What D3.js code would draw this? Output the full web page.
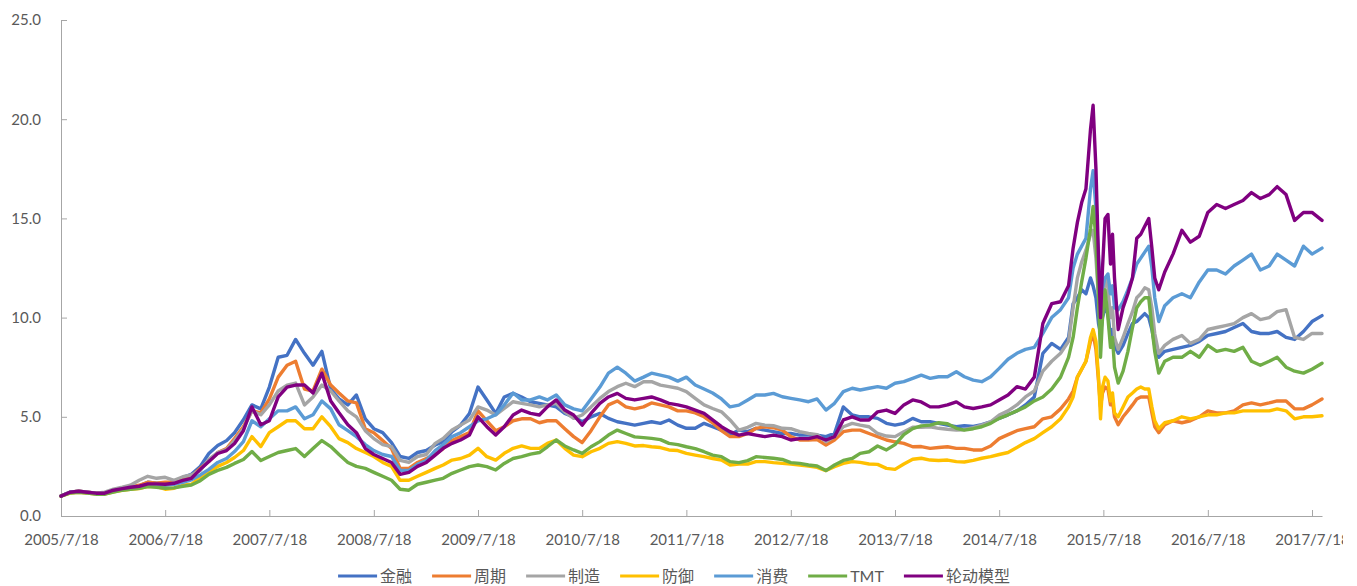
<!DOCTYPE html>
<html><head><meta charset="utf-8">
<script src="https://cdn.jsdelivr.net/npm/d3@7"></script>
<style>
body{margin:0;background:#fff;}
svg text{font-family:Lato,"Noto Sans CJK SC",sans-serif;fill:#595959;}
</style></head><body>
<svg id="chart" width="1357" height="586"></svg>
<script>
const dates = [
"2005-07-18","2005-08-18","2005-09-18","2005-10-18","2005-11-18","2005-12-18",
"2006-01-18","2006-02-18","2006-03-18","2006-04-18","2006-05-18","2006-06-18","2006-07-18","2006-08-18","2006-09-18","2006-10-18","2006-11-18","2006-12-18",
"2007-01-18","2007-02-18","2007-03-18","2007-04-18","2007-05-18","2007-06-18","2007-07-18","2007-08-18","2007-09-18","2007-10-18","2007-11-18","2007-12-18",
"2008-01-18","2008-02-18","2008-03-18","2008-04-18","2008-05-18","2008-06-18","2008-07-18","2008-08-18","2008-09-18","2008-10-18","2008-11-18","2008-12-18",
"2009-01-18","2009-02-18","2009-03-18","2009-04-18","2009-05-18","2009-06-18","2009-07-18","2009-08-18","2009-09-18","2009-10-18","2009-11-18","2009-12-18",
"2010-01-18","2010-02-18","2010-03-18","2010-04-18","2010-05-18","2010-06-18","2010-07-18","2010-08-18","2010-09-18","2010-10-18","2010-11-18","2010-12-18",
"2011-01-18","2011-02-18","2011-03-18","2011-04-18","2011-05-18","2011-06-18","2011-07-18","2011-08-18","2011-09-18","2011-10-18","2011-11-18","2011-12-18",
"2012-01-18","2012-02-18","2012-03-18","2012-04-18","2012-05-18","2012-06-18","2012-07-18","2012-08-18","2012-09-18","2012-10-18","2012-11-18","2012-12-18",
"2013-01-18","2013-02-18","2013-03-18","2013-04-18","2013-05-18","2013-06-18","2013-07-18","2013-08-18","2013-09-18","2013-10-18","2013-11-18","2013-12-18",
"2014-01-18","2014-02-18","2014-03-18","2014-04-18","2014-05-18","2014-06-18","2014-07-18","2014-08-18","2014-09-18","2014-10-18","2014-11-18","2014-12-18",
"2015-01-18","2015-02-18","2015-03-18","2015-04-03","2015-04-18","2015-05-03","2015-05-18","2015-06-03","2015-06-12","2015-06-22",
"2015-07-01","2015-07-08","2015-07-15","2015-07-24","2015-08-03","2015-08-12","2015-08-19","2015-08-26","2015-09-08","2015-09-25",
"2015-10-12","2015-10-28","2015-11-12","2015-11-26","2015-12-10","2015-12-24","2016-01-04","2016-01-14","2016-01-28","2016-02-18",
"2016-03-18","2016-04-18","2016-05-18","2016-06-18","2016-07-18","2016-08-18","2016-09-18","2016-10-18","2016-11-18","2016-12-18",
"2017-01-18","2017-02-18","2017-03-18","2017-04-18","2017-05-18","2017-06-18","2017-07-18","2017-08-22"
];

const seriesNames = ["金融","周期","制造","防御","消费","TMT","轮动模型"];
const seriesColors = ["#4472C4","#ED7D31","#A5A5A5","#FFC000","#5B9BD5","#70AD47","#800080"];

const jinrong = [
1.0,1.2,1.25,1.2,1.15,1.15,1.28,1.36,1.45,1.52,
1.7,1.65,1.65,1.7,1.95,2.1,2.5,3.15,3.55,3.8,
4.2,4.85,5.6,5.4,6.5,8.0,8.1,8.9,8.2,7.6,
8.3,6.4,5.9,5.6,6.1,4.9,4.4,4.2,3.7,3.0,
2.9,3.2,3.3,3.58,3.75,4.25,4.58,5.17,6.5,5.85,
5.17,6.0,6.18,6.0,5.76,5.68,5.6,5.5,5.17,5.0,
4.75,5.0,5.17,4.92,4.75,4.67,4.58,4.67,4.75,4.67,
4.84,4.58,4.42,4.42,4.67,4.5,4.33,4.08,4.33,4.25,
4.42,4.33,4.25,4.16,4.16,4.08,4.08,4.08,4.0,4.16,
5.5,5.09,5.0,5.0,4.92,4.67,4.58,4.67,4.92,4.75,
4.75,4.67,4.58,4.5,4.55,4.52,4.6,4.75,4.92,5.1,
5.3,5.6,6.0,8.2,
8.7,8.4,9.0,10.7,11.0,11.4,11.2,12.0,11.6,11.0,
9.7,9.2,10.0,10.5,10.2,9.0,9.4,8.6,8.2,8.6,
9.2,9.7,9.8,10.0,10.2,10.0,9.4,8.6,8.0,8.3,
8.4,8.5,8.6,8.8,9.1,9.2,9.3,9.5,9.7,9.3,
9.2,9.2,9.3,9.0,8.9,9.3,9.8,10.1
];
const zhouqi = [
1.0,1.2,1.25,1.2,1.15,1.15,1.28,1.36,1.45,1.55,
1.7,1.65,1.7,1.72,1.9,2.0,2.4,2.75,3.2,3.4,
3.9,4.5,5.3,5.2,5.9,7.0,7.6,7.8,6.4,6.3,
7.4,6.6,6.2,5.8,5.7,4.4,4.2,3.8,3.4,2.4,
2.4,2.7,2.9,3.1,3.4,3.8,4.0,4.2,5.3,4.8,
4.3,4.5,4.8,4.9,4.9,4.7,4.8,4.8,4.4,4.0,
3.7,4.3,5.0,5.6,5.8,5.5,5.4,5.5,5.7,5.6,
5.5,5.3,5.3,5.2,5.0,4.7,4.3,4.0,4.0,4.16,
4.42,4.5,4.45,4.33,4.0,3.83,3.83,3.85,3.58,3.83,
4.25,4.33,4.33,4.16,4.0,3.83,3.74,3.66,3.49,3.5,
3.41,3.45,3.49,3.41,3.41,3.33,3.33,3.53,3.9,4.1,
4.3,4.4,4.5,4.9,
5.0,5.4,5.9,6.3,7.0,7.4,7.8,8.8,9.2,8.4,
6.8,5.5,6.2,6.5,6.4,5.6,5.8,5.0,4.6,5.0,
5.3,5.6,5.9,6.0,6.0,6.0,5.2,4.5,4.2,4.6,
4.8,4.7,4.8,5.0,5.3,5.2,5.2,5.3,5.6,5.7,
5.6,5.7,5.8,5.8,5.4,5.4,5.6,5.9
];
const zhizao = [
1.0,1.2,1.25,1.2,1.15,1.2,1.35,1.45,1.55,1.8,
2.0,1.9,1.95,1.8,1.98,2.07,2.3,2.85,3.2,3.35,
3.8,4.4,5.3,5.1,5.6,6.3,6.6,6.7,5.6,6.0,
6.6,6.3,5.8,5.3,5.0,4.3,3.9,3.6,3.5,2.8,
2.7,3.0,3.1,3.66,3.91,4.33,4.58,4.84,5.5,5.34,
5.09,5.42,5.76,5.68,5.6,5.5,5.6,5.68,5.25,4.92,
5.09,5.5,5.93,6.27,6.52,6.69,6.52,6.77,6.77,6.6,
6.52,6.44,6.27,5.93,5.6,5.42,5.25,4.84,4.33,4.47,
4.67,4.58,4.55,4.42,4.4,4.25,4.16,4.1,3.74,4.0,
4.5,4.67,4.58,4.5,4.16,4.03,4.0,4.25,4.47,4.47,
4.5,4.42,4.37,4.33,4.35,4.45,4.58,4.75,5.09,5.3,
5.6,6.0,6.3,7.3,
7.8,8.2,8.8,10.5,12.0,12.8,13.4,14.2,14.4,13.0,
11.0,9.4,10.5,12.0,11.5,10.0,10.5,9.0,8.4,9.0,
9.7,10.3,11.0,11.2,11.5,11.4,10.5,9.2,8.2,8.6,
8.9,9.1,8.7,8.9,9.4,9.5,9.6,9.7,10.0,10.2,
9.9,10.0,10.3,10.4,9.0,8.9,9.2,9.2
];
const fangyu = [
1.0,1.15,1.2,1.15,1.1,1.1,1.22,1.3,1.35,1.38,
1.5,1.48,1.35,1.4,1.55,1.6,1.95,2.2,2.5,2.7,
2.95,3.3,4.0,3.5,4.2,4.5,4.8,4.8,4.4,4.4,
5.0,4.5,3.9,3.7,3.4,3.2,3.0,2.7,2.5,1.8,
1.8,2.0,2.2,2.4,2.57,2.82,2.9,3.07,3.41,2.99,
2.82,3.16,3.41,3.53,3.41,3.41,3.66,3.83,3.41,3.07,
2.99,3.24,3.41,3.66,3.75,3.66,3.53,3.55,3.49,3.45,
3.33,3.3,3.16,3.07,2.99,2.9,2.82,2.57,2.62,2.62,
2.74,2.74,2.69,2.65,2.62,2.57,2.52,2.45,2.29,2.49,
2.65,2.74,2.7,2.62,2.6,2.4,2.35,2.62,2.86,2.91,
2.82,2.8,2.82,2.74,2.72,2.8,2.91,2.99,3.1,3.2,
3.45,3.7,3.9,4.2,
4.5,4.9,5.5,6.0,7.0,7.4,7.8,9.0,9.4,8.8,
7.0,4.9,6.5,7.0,6.8,5.8,6.2,5.2,5.0,5.5,
6.0,6.2,6.4,6.5,6.4,6.4,5.5,4.8,4.4,4.7,
4.8,5.0,4.9,5.0,5.1,5.1,5.2,5.2,5.3,5.3,
5.3,5.3,5.4,5.3,4.9,5.0,5.0,5.05
];
const xiaofei = [
1.0,1.2,1.22,1.18,1.12,1.12,1.25,1.33,1.4,1.45,
1.6,1.55,1.55,1.6,1.7,1.82,2.07,2.35,2.7,2.9,
3.25,3.75,4.8,4.5,4.9,5.3,5.3,5.5,4.9,5.1,
5.8,5.4,4.6,4.3,4.0,3.6,3.3,3.1,3.0,2.3,
2.3,2.6,2.8,3.3,3.6,4.0,4.2,4.5,4.8,4.9,
5.1,5.6,6.2,5.85,5.85,6.0,5.85,6.1,5.6,5.4,
5.3,5.9,6.5,7.2,7.5,7.2,6.8,7.0,7.2,7.1,
7.0,6.8,7.0,6.6,6.4,6.2,5.9,5.5,5.59,5.85,
6.1,6.1,6.18,6.01,5.93,5.85,5.76,5.9,5.34,5.68,
6.27,6.44,6.35,6.44,6.52,6.44,6.69,6.77,6.94,7.1,
6.94,7.02,7.02,7.27,7.02,6.85,6.77,7.02,7.44,7.9,
8.2,8.4,8.5,9.2,
10.0,10.4,11.0,12.5,13.2,13.6,14.0,16.5,17.4,15.5,
13.0,11.0,11.5,12.0,12.2,11.2,11.6,10.5,10.4,10.8,
11.4,12.0,12.7,13.0,13.3,13.6,12.5,11.0,9.8,10.6,
11.0,11.2,11.0,11.8,12.4,12.4,12.2,12.6,12.9,13.2,
12.4,12.6,13.2,12.9,12.6,13.6,13.2,13.5
];
const tmt = [
1.0,1.15,1.2,1.15,1.1,1.1,1.2,1.3,1.35,1.4,
1.48,1.45,1.4,1.42,1.5,1.56,1.78,2.1,2.3,2.45,
2.65,2.85,3.25,2.8,3.0,3.2,3.3,3.4,3.0,3.4,
3.8,3.5,3.1,2.7,2.5,2.4,2.2,2.0,1.8,1.35,
1.3,1.6,1.7,1.81,1.9,2.15,2.32,2.49,2.57,2.49,
2.32,2.65,2.9,2.99,3.12,3.2,3.49,3.83,3.53,3.33,
3.16,3.49,3.75,4.08,4.33,4.16,3.99,3.95,3.91,3.85,
3.66,3.6,3.49,3.4,3.24,3.07,2.99,2.74,2.69,2.79,
2.99,2.95,2.91,2.85,2.69,2.65,2.57,2.52,2.29,2.57,
2.8,2.9,3.16,3.24,3.53,3.33,3.6,4.1,4.4,4.54,
4.58,4.7,4.65,4.42,4.33,4.4,4.5,4.67,4.92,5.1,
5.3,5.5,5.8,6.0,
6.4,7.0,8.0,9.0,10.5,11.8,13.0,14.5,15.6,14.0,
11.0,8.0,10.0,11.4,10.0,8.5,9.0,7.5,6.7,7.3,
8.3,9.5,10.5,10.8,11.0,11.0,9.5,8.3,7.2,7.8,
8.0,8.0,8.3,8.0,8.6,8.3,8.4,8.3,8.5,7.8,
7.6,7.8,8.0,7.5,7.3,7.2,7.4,7.7
];
const lundong = [
1.0,1.2,1.25,1.2,1.15,1.15,1.3,1.38,1.45,1.5,
1.62,1.62,1.6,1.65,1.8,1.9,2.35,2.75,3.15,3.3,
3.65,4.3,5.5,4.6,4.8,6.0,6.5,6.6,6.6,6.2,
7.2,5.8,5.2,4.6,4.2,3.4,3.1,2.9,2.7,2.1,
2.2,2.5,2.7,3.07,3.41,3.66,3.83,4.08,5.0,4.5,
4.08,4.5,5.09,5.34,5.17,5.09,5.5,5.85,5.34,5.09,
4.58,5.17,5.68,6.0,6.18,5.93,5.85,5.93,6.0,5.85,
5.68,5.6,5.5,5.34,5.17,4.84,4.5,4.25,4.08,4.16,
4.08,4.0,4.08,4.0,3.83,3.9,3.9,4.0,3.83,4.0,
4.84,5.0,4.84,4.84,5.25,5.34,5.17,5.6,5.85,5.75,
5.5,5.5,5.6,5.75,5.5,5.42,5.5,5.6,5.85,6.1,
6.52,6.4,7.0,9.7,
10.7,10.8,11.6,13.5,14.8,15.8,16.5,19.5,20.7,17.5,
13.0,10.0,12.5,15.0,15.2,12.7,14.2,12.0,9.4,10.5,
11.2,12.0,14.0,14.2,14.6,15.0,13.5,12.0,11.4,12.3,
13.2,14.4,13.8,14.1,15.3,15.7,15.5,15.7,15.9,16.3,
16.0,16.2,16.6,16.2,14.9,15.3,15.3,14.9
];
const seriesValues = [jinrong, zhouqi, zhizao, fangyu, xiaofei, tmt, lundong];

const yTickValues = [0, 5, 10, 15, 20, 25];
const xTickLabels = ["2005/7/18","2006/7/18","2007/7/18","2008/7/18","2009/7/18","2010/7/18","2011/7/18","2012/7/18","2013/7/18","2014/7/18","2015/7/18","2016/7/18","2017/7/18"];

const svg = d3.select("#chart");
const parse = d3.timeParse("%Y-%m-%d");
const parseTick = d3.timeParse("%Y/%m/%d");
const dateObjs = dates.map(parse);

const x = d3.scaleTime()
  .domain([parse("2005-07-18"), parse("2017-08-22")])
  .range([61, 1322]);
const y = d3.scaleLinear().domain([0, 25]).range([516, 20]);

// clip for x labels (last label is cut by the chart border)
svg.append("defs").append("clipPath").attr("id","lblclip")
  .append("rect").attr("x",0).attr("y",-520).attr("width",1343).attr("height",600);

// Y axis
const yAxis = svg.append("g").attr("transform","translate(61,0)")
  .call(d3.axisLeft(y).tickValues(yTickValues).tickFormat(d3.format(".1f"))
    .tickSizeInner(-6).tickSizeOuter(0).tickPadding(20));
yAxis.select(".domain").attr("stroke","#a6a6a6");
yAxis.selectAll(".tick line").attr("stroke","#a6a6a6");
yAxis.selectAll("text").attr("font-size",15).style("fill","#595959")
  .attr("font-family",'Lato,"Noto Sans CJK SC",sans-serif');

// X axis
const xTickDates = xTickLabels.map(parseTick);
const xAxis = svg.append("g").attr("transform","translate(0,516)")
  .call(d3.axisBottom(x).tickValues(xTickDates)
    .tickFormat((d,i) => xTickLabels[i])
    .tickSizeInner(-6).tickSizeOuter(0).tickPadding(18));
xAxis.select(".domain").attr("stroke","#a6a6a6");
xAxis.selectAll(".tick line").attr("stroke","#a6a6a6");
xAxis.selectAll("text").attr("font-size",15).style("fill","#595959")
  .attr("font-family",'Lato,"Noto Sans CJK SC",sans-serif')
  .attr("clip-path", null);
xAxis.selectAll(".tick text").each(function(){
  // clip each label against the chart border
  d3.select(this.parentNode).attr("clip-path", null);
});
xAxis.attr("clip-path","url(#lblclip)");

// Lines
const line = d3.line()
  .x(d => x(d.date))
  .y(d => y(d.v));

seriesNames.forEach((name, si) => {
  const pts = seriesValues[si].map((v, i) => ({date: dateObjs[i], v}))
    .filter(p => p.date && p.v != null);
  svg.append("path")
    .datum(pts)
    .attr("fill","none")
    .attr("stroke", seriesColors[si])
    .attr("stroke-width", 3.4)
    .attr("stroke-linejoin","round")
    .attr("stroke-linecap","round")
    .attr("d", line);
});

// Legend
const legend = svg.append("g");
const legY = 576;
let cx = 0;
seriesNames.forEach((name, si) => {
  const g = legend.append("g");
  g.append("line").attr("x1",0).attr("x2",39).attr("y1",0).attr("y2",0)
    .attr("stroke",seriesColors[si]).attr("stroke-width",3);
  const t = g.append("text").attr("x",42).attr("y",0).attr("dy","0.35em")
    .attr("font-size",16).text(name);
  const w = t.node().getComputedTextLength();
  g.attr("transform",`translate(${cx},${legY})`);
  cx += 42 + w + 20;
});
const totalW = cx - 20;
legend.attr("transform",`translate(${674 - totalW/2},0)`);
</script>
</body></html>
